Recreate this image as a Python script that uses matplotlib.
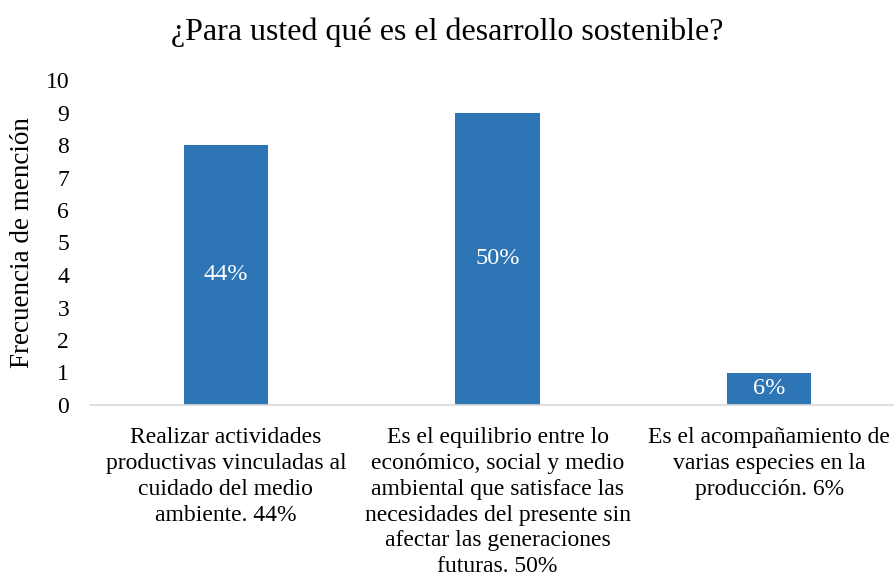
import matplotlib
matplotlib.use("Agg")
import matplotlib.pyplot as plt

categories = [
    "Realizar actividades\nproductivas vinculadas al\ncuidado del medio\nambiente. 44%",
    "Es el equilibrio entre lo\neconómico, social y medio\nambiental que satisface las\nnecesidades del presente sin\nafectar las generaciones\nfuturas. 50%",
    "Es el acompañamiento de\nvarias especies en la\nproducción. 6%",
]
values = [8, 9, 1]
labels = ["44%", "50%", "6%"]
yticks = list(range(0, 11))

plt.rcParams['font.family'] = ['Liberation Serif', 'DejaVu Serif']

fig = plt.figure(figsize=(8.94, 5.83), dpi=100)
ax = fig.add_axes([90/894, 1-405/583, (893-90)/894, (405-80)/583])

x = list(range(len(values)))
bars = ax.bar(x, values, width=0.31, color='#2E75B6', zorder=2)
ax.set_xlim(-0.5, 2.455)
ax.set_ylim(0, 10)
ax.set_yticks(yticks)
ax.set_yticklabels([str(t) for t in yticks], fontsize=17)
ax.set_xticks(x)
ax.set_xticklabels(categories, fontsize=17, linespacing=1.3, va='top')
ax.tick_params(axis='both', length=0)
ax.tick_params(axis='y', pad=15)
ax.tick_params(axis='x', pad=16)

for s in ['top', 'right', 'left']:
    ax.spines[s].set_visible(False)
ax.spines['bottom'].set_color('#D9D9D9')
ax.spines['bottom'].set_linewidth(1.2)

for xi, v, lab in zip(x, values, labels):
    ax.text(xi, v / 2, lab, ha='center', va='center', color='white', fontsize=17.5)

ax.set_ylabel("Frecuencia de mención", fontsize=19.5)
ax.yaxis.set_label_coords(-0.068, 0.5)

fig.text(0.5, 1-32/583, "¿Para usted qué es el desarrollo sostenible?", ha='center', va='center', fontsize=23)

fig.savefig("out.png", dpi=100)
